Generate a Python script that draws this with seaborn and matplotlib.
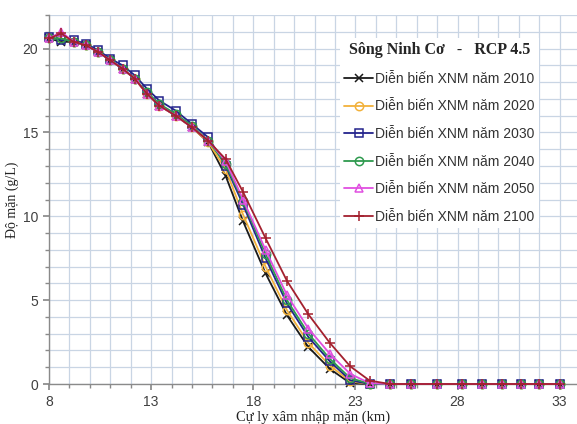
import matplotlib
matplotlib.use("Agg")
import matplotlib.pyplot as plt
import seaborn as sns
import numpy as np
import pandas as pd
from matplotlib.ticker import MultipleLocator

stations = [8, 8.6, 9.2, 9.8, 10.4, 11, 11.6, 12.2, 12.8, 13.4, 14.2, 15, 15.8, 16.65,
            17.5, 18.6, 19.65, 20.7, 21.75, 22.75, 23.7, 24.7, 25.7, 27, 28.2, 29.2,
            30.2, 31.1, 32, 33]

s2010 = [20.6, 20.4, 20.4, 20.2, 19.8, 19.3, 18.8, 18.2, 17.3, 16.6, 16.0, 15.3, 14.4, 12.4,
         9.7, 6.6, 4.1, 2.2, 0.9, 0.05, 0, 0, 0, 0, 0, 0, 0, 0, 0, 0]
s2020 = [20.6, 20.6, 20.4, 20.2, 19.8, 19.3, 18.8, 18.2, 17.3, 16.6, 16.0, 15.3, 14.4, 12.8,
         10.1, 7.0, 4.4, 2.45, 1.1, 0.15, 0, 0, 0, 0, 0, 0, 0, 0, 0, 0]
s2030 = [20.7, 20.5, 20.5, 20.3, 19.9, 19.4, 19.0, 18.4, 17.6, 16.9, 16.3, 15.5, 14.7, 13.0,
         10.7, 7.5, 4.8, 2.8, 1.35, 0.22, 0, 0, 0, 0, 0, 0, 0, 0, 0, 0]
s2040 = [20.6, 20.6, 20.4, 20.2, 19.8, 19.3, 18.8, 18.2, 17.4, 16.7, 16.1, 15.4, 14.5, 13.1,
         10.9, 7.75, 5.0, 3.0, 1.5, 0.35, 0.02, 0, 0, 0, 0, 0, 0, 0, 0, 0]
s2050 = [20.6, 21.0, 20.4, 20.2, 19.8, 19.3, 18.8, 18.2, 17.3, 16.6, 16.0, 15.3, 14.5, 13.3,
         11.0, 8.0, 5.3, 3.3, 1.8, 0.6, 0.05, 0, 0, 0, 0, 0, 0, 0, 0, 0]
s2100 = [20.6, 20.9, 20.4, 20.2, 19.8, 19.3, 18.8, 18.2, 17.3, 16.6, 16.0, 15.3, 14.5, 13.4,
         11.45, 8.7, 6.15, 4.15, 2.45, 1.05, 0.2, 0, 0, 0, 0, 0, 0, 0, 0, 0]

labels = ["Diễn biến XNM năm 2010", "Diễn biến XNM năm 2020", "Diễn biến XNM năm 2030",
          "Diễn biến XNM năm 2040", "Diễn biến XNM năm 2050", "Diễn biến XNM năm 2100"]
xticks = [8, 13, 18, 23, 28, 33]
yticks = [0, 5, 10, 15, 20]

series = [s2010, s2020, s2030, s2040, s2050, s2100]
colors = ["#1a1a1a", "#F2B13A", "#23238C", "#2E9A4E", "#E04FE0", "#A3202E"]
markers = ["x", "o", "s", "o", "^", "+"]
fills = [True, False, False, False, False, True]

sns.set_theme(style="white")
plt.rcParams['font.family'] = ['Liberation Sans', 'DejaVu Sans']

fig = plt.figure(figsize=(5.77, 4.24), dpi=100)
ax = fig.add_axes([49/577, 40/424, 1 - 49/577, (384 - 15) / 424])

for vals, lab, col, mk, fl in zip(series, labels, colors, markers, fills):
    df = pd.DataFrame({"x": stations, "y": vals})
    kw = dict(markerfacecolor=col if fl else "none", markeredgecolor=col,
              markeredgewidth=1.1, markersize=6 if mk != "+" else 7)
    sns.lineplot(data=df, x="x", y="y", ax=ax, color=col, marker=mk, label=lab,
                 linewidth=1.3, clip_on=False, zorder=3, **kw)

ax.set_xlim(8, 33.85)
ax.set_ylim(0, 22)
ax.set_xticks(xticks)
ax.set_yticks(yticks)
ax.xaxis.set_minor_locator(MultipleLocator(1))
ax.yaxis.set_minor_locator(MultipleLocator(1))
ax.grid(True, which="both", color="#C9D5E4", linewidth=0.9)
ax.set_axisbelow(True)
for side in ["top", "right"]:
    ax.spines[side].set_visible(False)
for side in ["left", "bottom"]:
    ax.spines[side].set_color("#8A8A8A")
    ax.spines[side].set_linewidth(1.0)
ax.tick_params(which="both", direction="out", color="#8A8A8A", left=True, bottom=True)
ax.tick_params(which="major", length=4, labelsize=10, labelcolor="#404040", pad=4)
ax.tick_params(which="minor", length=3)

ax.set_xlabel("Cự ly xâm nhập mặn (km)", family=["Liberation Serif", "DejaVu Serif"],
              fontsize=10.5, color="#222222", labelpad=1)
ax.set_ylabel("Độ mặn (g/L)", family=["Liberation Serif", "DejaVu Serif"],
              fontsize=10, color="#222222")
ax.yaxis.set_label_coords(-0.056, 0.5)

leg = ax.legend(loc="upper left", bbox_to_anchor=(340/577, 1 - 38/424),
                bbox_transform=fig.transFigure, frameon=True, fancybox=False,
                facecolor="white", edgecolor="none", framealpha=1.0,
                title="Sông Ninh Cơ   -   RCP 4.5", fontsize=10,
                labelspacing=0.98, handlelength=2.1, handletextpad=0.15,
                borderpad=0.3, borderaxespad=0)
leg.get_title().set_fontfamily(["Liberation Serif", "DejaVu Serif"])
leg.get_title().set_fontweight("bold")
leg.get_title().set_fontsize(11.5)
for t in leg.get_texts():
    t.set_color("#333333")
leg.set_zorder(5)

fig.savefig("out.png", dpi=100)
